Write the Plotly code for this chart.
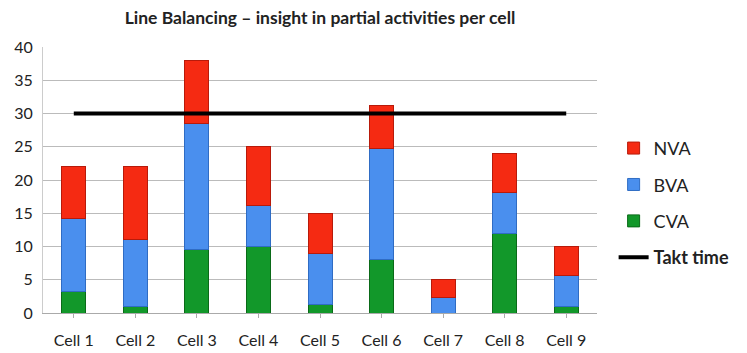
import plotly.graph_objects as go

cells = ["Cell 1", "Cell 2", "Cell 3", "Cell 4", "Cell 5", "Cell 6", "Cell 7", "Cell 8", "Cell 9"]
cva = [3.2, 1.0, 9.6, 10.0, 1.3, 8.1, 0.0, 12.0, 1.0]
bva = [11.0, 10.0, 18.9, 6.1, 7.6, 16.7, 2.4, 6.1, 4.7]
nva = [7.8, 11.0, 9.5, 8.9, 6.1, 6.4, 2.6, 5.9, 4.3]
takt = [30] * 9

fig = go.Figure()
fig.add_trace(go.Bar(x=cells, y=cva, name="CVA", marker=dict(color="#12982A", line=dict(color="#0A6A18", width=1)),
                     legendrank=3, legendgroup="c"))
fig.add_trace(go.Bar(x=cells, y=bva, name="BVA", marker=dict(color="#4A8FEE", line=dict(color="#2F6CC4", width=1)),
                     legendrank=2, legendgroup="b"))
fig.add_trace(go.Bar(x=cells, y=nva, name="NVA", marker=dict(color="#F52A12", line=dict(color="#B81A0A", width=1)),
                     legendrank=1, legendgroup="a"))
fig.add_trace(go.Scatter(x=cells, y=takt, name="<b>Takt time</b>", mode="lines",
                         line=dict(color="black", width=4), legendrank=4, legendgroup="d"))

fig.update_layout(
    width=739, height=345,
    barmode="stack", bargap=0.61,
    margin=dict(l=35, r=150, t=39, b=40),
    paper_bgcolor="white", plot_bgcolor="white",
    font=dict(family="Lato, Open Sans, sans-serif", size=16, color="#222"),
    title=dict(text="<b>Line Balancing – insight in partial activities per cell</b>", x=312 / 739, xanchor="center",
               y=0.97, yanchor="middle", font=dict(size=17.5, color="#222")),
    legend=dict(x=1.03, xanchor="left", y=0.414, yanchor="middle", traceorder="grouped",
                tracegroupgap=10, font=dict(size=18, color="#222"), itemwidth=30, borderwidth=0),
    showlegend=True,
)
fig.update_xaxes(showline=True, linecolor="#AAAAAA", ticks="outside", tickcolor="#AAAAAA", ticklen=4,
                 tickfont=dict(size=16), ticklabelstandoff=9, automargin=False)
fig.update_yaxes(range=[0, 40], dtick=5, showgrid=True, gridcolor="#BBBBBB", gridwidth=1,
                 showline=True, linecolor="#CCCCCC", zeroline=False, tickfont=dict(size=16),
                 ticklabelstandoff=6, automargin=False)

fig.write_html("out.html")
